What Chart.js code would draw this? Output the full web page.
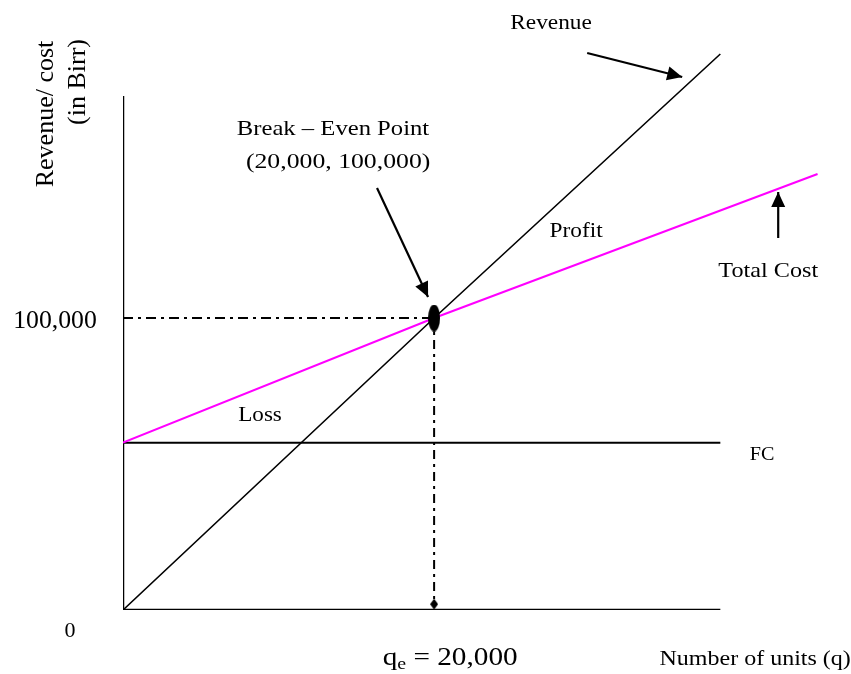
<!DOCTYPE html>
<html>
<head>
<meta charset="utf-8">
<script src="https://cdn.jsdelivr.net/npm/chart.js@4/dist/chart.umd.min.js"></script>
<style>
  html, body { margin: 0; padding: 0; background: #fff; }
  canvas { display: block; }
</style>
</head>
<body>
<canvas id="breakEvenChart" width="851" height="674"></canvas>
<script>
// break-even chart data (units q, money in Birr)
const qRevenue = [0, 20000, 38400];
const revenue = [0, 100000, 190400];
const qCost = [0, 20000, 44650];
const totalCost = [57300, 100000, 149300];
const qFixed = [0, 38400];
const fixedCost = [57300, 57300];
const breakEven = [20000, 100000];
const axisX = [0, 38400];
const axisYTop = 176000;
const guideBottom = 2000;

// arrows: [x0, y0, x1, y1] in data units, head at the second point
const arrowRevenue = [29840, 190750, 35950, 182530];
const arrowBreakEven = [16330, 144520, 19610, 107190];
const arrowCost = [42120, 127400, 42120, 143150];

// labels: text, x, y (baseline), font size, horizontal stretch
const labels = [
  ["Revenue", 27520, 198970, 22, 1.06],
  ["Break \u2013 Even Point", 13500, 162670, 22, 1.12],
  ["(20,000, 100,000)", 13830, 151370, 22, 1.17],
  ["Profit", 29130, 127740, 22, 1.06],
  ["Total Cost", 41480, 114040, 22, 1.1],
  ["Loss", 8810, 64730, 22, 1.05],
  ["FC", 41090, 51370, 18, 1.12],
  ["100,000", -4370, 96580, 25, 1.03],
  ["0", -3410, -9250, 22, 1],
  ["Number of units (q)", 40640, -18840, 20, 1.2],
];
const yTitle = [
  ["Revenue/ cost", -4500, 169860, 26],
  ["(in Birr)", -2440, 180820, 26],
];
const qeLabel = [21030, -18840];

const pts = (xs, ys) => xs.map((x, i) => ({ x: x, y: ys[i] }));
const serif = (s) => s + "px 'Liberation Serif', 'Times New Roman', serif";

function shapeCanvas(w, h, draw) {
  const c = document.createElement("canvas");
  c.width = w;
  c.height = h;
  const g = c.getContext("2d");
  g.fillStyle = "#000";
  draw(g, w, h);
  return c;
}
const ellipseMark = shapeCanvas(12, 27, (g, w, h) => {
  g.beginPath();
  g.ellipse(w / 2, h / 2, w / 2, h / 2, 0, 0, Math.PI * 2);
  g.fill();
});
const diamondMark = shapeCanvas(8, 11, (g, w, h) => {
  g.beginPath();
  g.moveTo(w / 2, 0);
  g.lineTo(w, h / 2);
  g.lineTo(w / 2, h);
  g.lineTo(0, h / 2);
  g.closePath();
  g.fill();
});

const plain = (data, color, width) => ({
  data: data,
  showLine: true,
  borderColor: color,
  borderWidth: width,
  pointRadius: 0,
  fill: false,
});

const arrowSet = (a) =>
  Object.assign(plain([{ x: a[0], y: a[1] }, { x: a[2], y: a[3] }], "#000", 2.2), { arrow: true });

const arrowPlugin = {
  id: "arrowHeads",
  afterDatasetsDraw(chart) {
    const ctx = chart.ctx;
    chart.data.datasets.forEach((ds, i) => {
      if (!ds.arrow) return;
      const p = chart.getDatasetMeta(i).data;
      const a = p[p.length - 2], b = p[p.length - 1];
      const ang = Math.atan2(b.y - a.y, b.x - a.x);
      const len = 15, half = 7;
      ctx.save();
      ctx.translate(b.x, b.y);
      ctx.rotate(ang);
      ctx.fillStyle = "#000";
      ctx.beginPath();
      ctx.moveTo(0, 0);
      ctx.lineTo(-len, -half);
      ctx.lineTo(-len, half);
      ctx.closePath();
      ctx.fill();
      ctx.restore();
    });
  },
};

const textPlugin = {
  id: "textLabels",
  afterDraw(chart) {
    const ctx = chart.ctx;
    const sx = chart.scales.x, sy = chart.scales.y;
    ctx.save();
    ctx.fillStyle = "#000";
    ctx.textBaseline = "alphabetic";
    labels.forEach(([t, x, y, size, stretch]) => {
      ctx.save();
      ctx.font = serif(size);
      ctx.textAlign = "center";
      ctx.translate(sx.getPixelForValue(x), sy.getPixelForValue(y));
      ctx.scale(stretch, 1);
      ctx.fillText(t, 0, 0);
      ctx.restore();
    });
    yTitle.forEach(([t, x, y, size]) => {
      ctx.save();
      ctx.font = serif(size);
      ctx.textAlign = "center";
      ctx.translate(sx.getPixelForValue(x), sy.getPixelForValue(y));
      ctx.rotate(-Math.PI / 2);
      ctx.fillText(t, 0, 0);
      ctx.restore();
    });
    // q subscript e = 20,000
    ctx.save();
    ctx.textAlign = "left";
    ctx.font = serif(25);
    const w1 = ctx.measureText("q").width;
    const w3 = ctx.measureText(" = 20,000").width;
    ctx.font = serif(17);
    const w2 = ctx.measureText("e").width;
    ctx.translate(sx.getPixelForValue(qeLabel[0]), sy.getPixelForValue(qeLabel[1]));
    ctx.scale(1.17, 1);
    const px = -(w1 + w2 + w3) / 2;
    ctx.font = serif(25);
    ctx.fillText("q", px, 0);
    ctx.font = serif(17);
    ctx.fillText("e", px + w1, 4);
    ctx.font = serif(25);
    ctx.fillText(" = 20,000", px + w1 + w2, 0);
    ctx.restore();
    ctx.restore();
  },
};

new Chart(document.getElementById("breakEvenChart"), {
  type: "scatter",
  data: {
    datasets: [
      Object.assign(plain(pts([breakEven[0]], [breakEven[1]]), "#000", 0), {
        pointRadius: 6,
        pointStyle: ellipseMark,
      }),
      Object.assign(
        plain([{ x: breakEven[0], y: breakEven[1] }, { x: breakEven[0], y: guideBottom }], "#000", 2),
        { borderDash: [9, 5, 3, 5] }
      ),
      Object.assign(plain(pts([breakEven[0]], [guideBottom]), "#000", 0), {
        pointRadius: 5,
        pointStyle: diamondMark,
      }),
      Object.assign(
        plain([{ x: 0, y: breakEven[1] }, { x: breakEven[0], y: breakEven[1] }], "#000", 2),
        { borderDash: [10, 5, 3, 5] }
      ),
      plain(pts(qRevenue, revenue), "#000", 1.6),
      plain(pts(qCost, totalCost), "#ff00ff", 2),
      plain(pts(qFixed, fixedCost), "#000", 2),
      plain(pts(axisX, [0, 0]), "#000", 2.5),
      plain([{ x: 0, y: 0 }, { x: 0, y: axisYTop }], "#000", 2.5),
      arrowSet(arrowRevenue),
      arrowSet(arrowBreakEven),
      arrowSet(arrowCost),
    ],
  },
  options: {
    responsive: false,
    animation: false,
    devicePixelRatio: 1,
    layout: { padding: { left: 123, right: 28, top: 26, bottom: 64 } },
    plugins: { legend: { display: false }, tooltip: { enabled: false } },
    scales: {
      x: { type: "linear", min: 0, max: 45000, display: false },
      y: { type: "linear", min: 0, max: 200000, display: false },
    },
  },
  plugins: [arrowPlugin, textPlugin],
});
</script>
</body>
</html>
